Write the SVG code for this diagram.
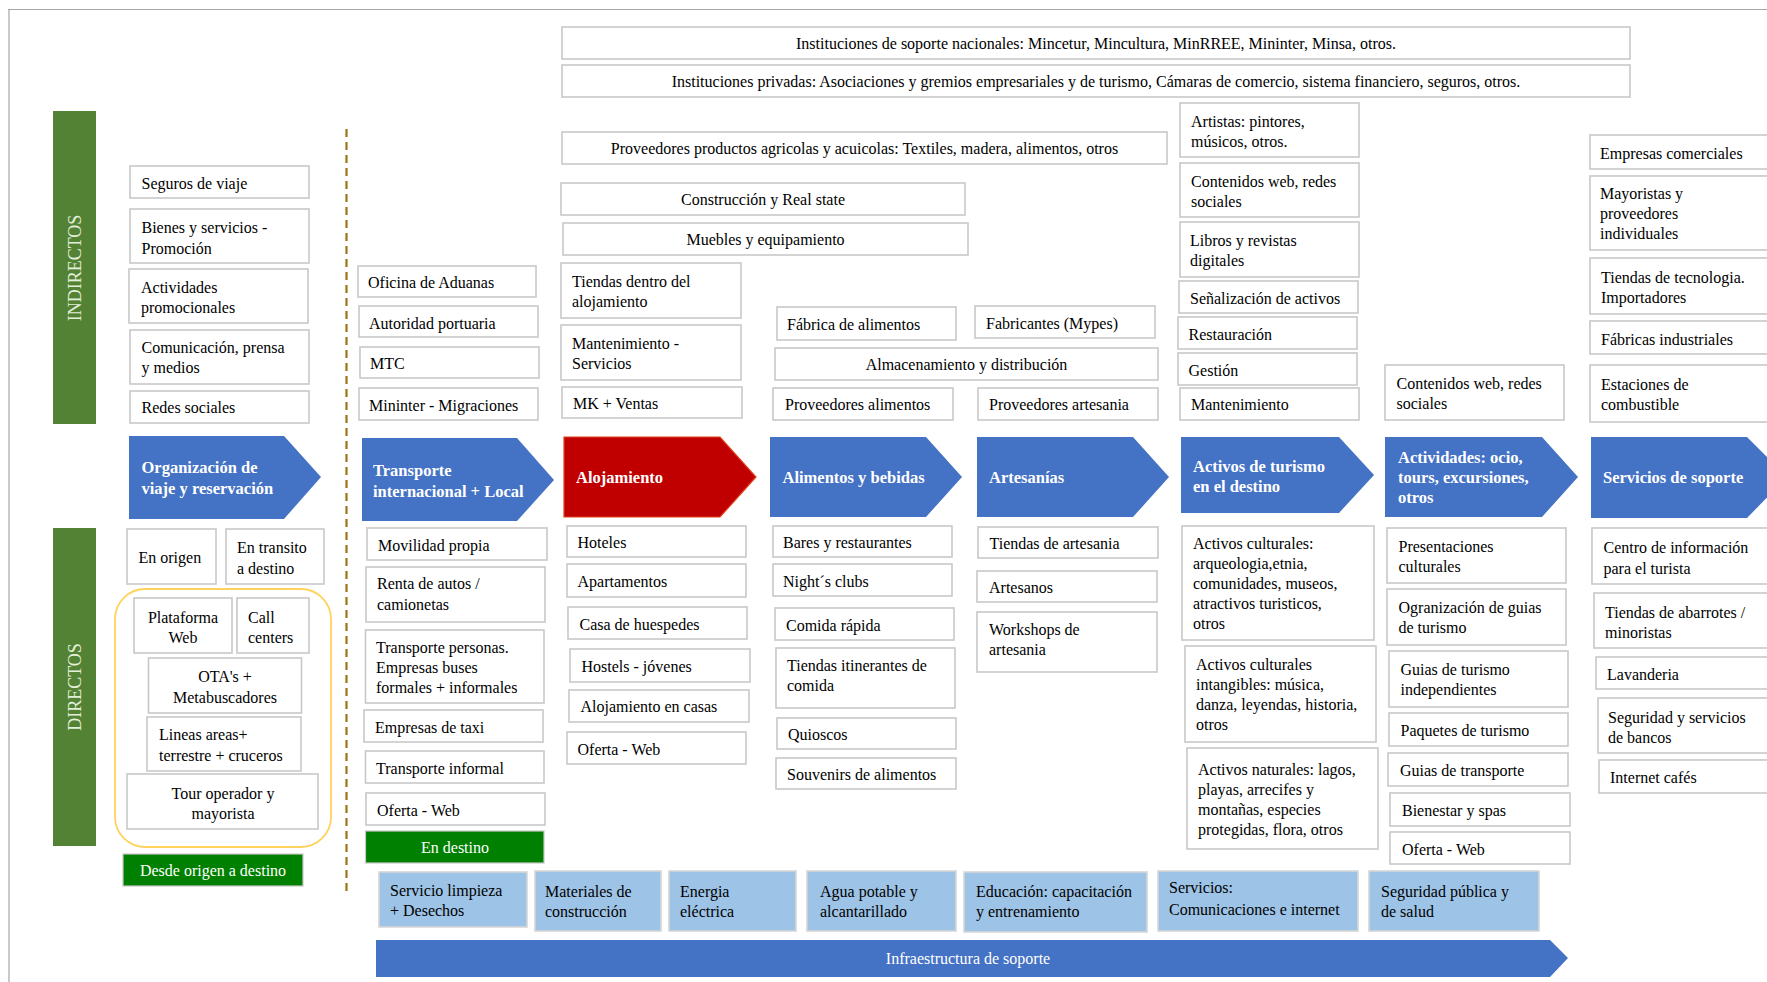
<svg xmlns="http://www.w3.org/2000/svg" width="1767" height="982" viewBox="0 0 1767 982">
<style>
.b{fill:#fff;stroke:#c8c8c8;stroke-width:1.6}
.lb{fill:#9dc3e6;stroke:#d6d6d6;stroke-width:1.6}
.t{font-family:"Liberation Serif","Times New Roman",serif;font-size:16px;fill:#000}
.c{text-anchor:middle}
.h{font-family:"Liberation Serif","Times New Roman",serif;font-size:16.5px;font-weight:bold;fill:#fff}
.w{font-family:"Liberation Serif","Times New Roman",serif;font-size:16px;fill:#fff}
.chev{fill:#4472c4}
.gbar{fill:#548235}
.gbox{fill:#008000;stroke:#c8c8c8;stroke-width:1.2}
.vt{font-family:"Liberation Serif","Times New Roman",serif;font-size:18px;fill:#e2efd9;text-anchor:middle}
</style>
<rect width="1767" height="982" fill="#fff"/>
<g id="frame" stroke="#a6a6a6" stroke-width="1.2" fill="none">
<line x1="8" y1="9.5" x2="1767" y2="9.5"/>
<line x1="9" y1="9.5" x2="9" y2="982"/>
</g>

<g id="connectors">
<line x1="346.5" y1="129" x2="346.5" y2="891" stroke="#9c7418" stroke-width="2.2" stroke-dasharray="8,5"/>
</g>

<!-- side bars -->
<g id="indirectos"><rect class="gbar" x="53" y="111" width="43" height="313"/><text class="vt" transform="translate(81,268) rotate(-90)">INDIRECTOS</text></g>
<g id="directos"><rect class="gbar" x="53" y="528" width="43" height="318"/><text class="vt" transform="translate(81,687) rotate(-90)">DIRECTOS</text></g>

<!-- top wide boxes -->
<g id="inst-nac"><rect class="b" x="562" y="27" width="1068" height="32"/><text class="t c" x="1096" y="49">Instituciones de soporte nacionales: Mincetur, Mincultura, MinRREE, Mininter, Minsa, otros.</text></g>
<g id="inst-priv"><rect class="b" x="562" y="65" width="1068" height="32"/><text class="t c" x="1096" y="87">Instituciones privadas: Asociaciones y gremios empresariales y de turismo, Cámaras de comercio, sistema financiero, seguros, otros.</text></g>
<g id="prov-agri"><rect class="b" x="562" y="132" width="605" height="32"/><text class="t c" x="864.5" y="154">Proveedores productos agricolas y acuicolas: Textiles, madera, alimentos, otros</text></g>
<g id="construccion"><rect class="b" x="561" y="183" width="404" height="32"/><text class="t c" x="763" y="205">Construcción y Real state</text></g>
<g id="muebles"><rect class="b" x="563" y="223" width="405" height="32"/><text class="t c" x="765.5" y="245">Muebles y equipamiento</text></g>
<g id="tiendas-aloj"><rect class="b" x="561" y="263" width="180" height="55"/><text class="t" x="572" y="287">Tiendas dentro del</text><text class="t" x="572" y="307">alojamiento</text></g>
<g id="mant-serv"><rect class="b" x="561" y="325" width="180" height="55"/><text class="t" x="572" y="349">Mantenimiento -</text><text class="t" x="572" y="369">Servicios</text></g>
<g id="mk-ventas"><rect class="b" x="562" y="387" width="180" height="31"/><text class="t" x="573" y="409">MK + Ventas</text></g>
<g id="fabrica-alim"><rect class="b" x="777" y="307" width="179" height="33"/><text class="t" x="787" y="330">Fábrica de alimentos</text></g>
<g id="fabricantes"><rect class="b" x="975" y="306" width="180" height="32"/><text class="t" x="986" y="329">Fabricantes (Mypes)</text></g>
<g id="almacen"><rect class="b" x="775" y="348" width="383" height="32"/><text class="t c" x="966.5" y="370">Almacenamiento y distribución</text></g>
<g id="prov-alim"><rect class="b" x="773" y="388" width="180" height="32"/><text class="t" x="785" y="410">Proveedores alimentos</text></g>
<g id="prov-arte"><rect class="b" x="978" y="388" width="180" height="32"/><text class="t" x="989" y="410">Proveedores artesania</text></g>

<g id="artistas"><rect class="b" x="1180" y="103" width="179" height="54"/><text class="t" x="1191" y="127">Artistas: pintores,</text><text class="t" x="1191" y="147">músicos, otros.</text></g>
<g id="contenidos1"><rect class="b" x="1180" y="163" width="179" height="54"/><text class="t" x="1191" y="187">Contenidos web, redes</text><text class="t" x="1191" y="207">sociales</text></g>
<g id="libros"><rect class="b" x="1180" y="222" width="179" height="55"/><text class="t" x="1190" y="246">Libros y revistas</text><text class="t" x="1190" y="266">digitales</text></g>
<g id="senalizacion"><rect class="b" x="1179" y="281" width="179" height="32"/><text class="t" x="1190" y="304">Señalización de activos</text></g>
<g id="restauracion"><rect class="b" x="1178" y="317" width="179" height="32"/><text class="t" x="1188.5" y="340">Restauración</text></g>
<g id="gestion"><rect class="b" x="1178" y="353" width="179" height="32"/><text class="t" x="1188.5" y="376">Gestión</text></g>
<g id="mantenimiento"><rect class="b" x="1180" y="388" width="179" height="32"/><text class="t" x="1191" y="410">Mantenimiento</text></g>
<g id="contenidos2"><rect class="b" x="1385" y="365" width="179" height="55"/><text class="t" x="1396.5" y="389">Contenidos web, redes</text><text class="t" x="1396.5" y="409">sociales</text></g>

<g id="empresas-com"><rect class="b" x="1590" y="135" width="185" height="34"/><text class="t" x="1600" y="159">Empresas comerciales</text></g>
<g id="mayoristas"><rect class="b" x="1590" y="176" width="185" height="74"/><text class="t" x="1600" y="199">Mayoristas y</text><text class="t" x="1600" y="219">proveedores</text><text class="t" x="1600" y="239">individuales</text></g>
<g id="tiendas-tec"><rect class="b" x="1590" y="258" width="185" height="56"/><text class="t" x="1601" y="283">Tiendas de tecnologia.</text><text class="t" x="1601" y="303">Importadores</text></g>
<g id="fabricas-ind"><rect class="b" x="1590" y="321" width="185" height="33"/><text class="t" x="1601" y="345">Fábricas industriales</text></g>
<g id="estaciones"><rect class="b" x="1590" y="365" width="185" height="57"/><text class="t" x="1601" y="390">Estaciones de</text><text class="t" x="1601" y="410">combustible</text></g>

<!-- left indirect -->
<g id="seguros"><rect class="b" x="130" y="166" width="179" height="32"/><text class="t" x="141.5" y="189">Seguros de viaje</text></g>
<g id="bienes"><rect class="b" x="130" y="209" width="179" height="54"/><text class="t" x="141.5" y="233">Bienes y servicios -</text><text class="t" x="141.5" y="254">Promoción</text></g>
<g id="activ-prom"><rect class="b" x="129" y="269" width="179" height="54"/><text class="t" x="141" y="293">Actividades</text><text class="t" x="141" y="313">promocionales</text></g>
<g id="comunicacion"><rect class="b" x="130" y="330" width="179" height="54"/><text class="t" x="141.5" y="353">Comunicación, prensa</text><text class="t" x="141.5" y="373">y medios</text></g>
<g id="redes"><rect class="b" x="130" y="391" width="179" height="32"/><text class="t" x="141.5" y="413">Redes sociales</text></g>

<g id="aduanas"><rect class="b" x="358" y="266" width="178" height="31"/><text class="t" x="368" y="288">Oficina de Aduanas</text></g>
<g id="portuaria"><rect class="b" x="359" y="306" width="179" height="31"/><text class="t" x="369" y="329">Autoridad portuaria</text></g>
<g id="mtc"><rect class="b" x="360" y="347" width="179" height="31"/><text class="t" x="370" y="369">MTC</text></g>
<g id="mininter"><rect class="b" x="359" y="388" width="179" height="32"/><text class="t" x="369" y="411">Mininter - Migraciones</text></g>

<!-- chevrons -->
<g id="ch-org"><polygon class="chev" points="129,436 284,436 321,477 284,519 129,519"/><text class="h" x="141.5" y="473">Organización de</text><text class="h" x="141.5" y="494">viaje y reservación</text></g>
<g id="ch-transp"><polygon class="chev" points="362,438 517,438 554,480 517,521 362,521"/><text class="h" x="373" y="476">Transporte</text><text class="h" x="373" y="497">internacional + Local</text></g>
<g id="ch-aloj"><polygon points="564,437 720,437 756,477 720,517 564,517" fill="#c00000" stroke="#e0401a" stroke-width="1.2"/><text class="h" x="576" y="483">Alojamiento</text></g>
<g id="ch-alim"><polygon class="chev" points="770,437 926,437 962,477 926,517 770,517"/><text class="h" x="782.5" y="483">Alimentos y bebidas</text></g>
<g id="ch-arte"><polygon class="chev" points="977,437 1133,437 1169,477 1133,517 977,517"/><text class="h" x="989" y="483">Artesanías</text></g>
<g id="ch-activos"><polygon class="chev" points="1181,437 1339,437 1374,475 1339,513 1181,513"/><text class="h" x="1193" y="472">Activos de turismo</text><text class="h" x="1193" y="492">en el destino</text></g>
<g id="ch-activ"><polygon class="chev" points="1385,437 1542,437 1578,477 1542,517 1385,517"/><text class="h" x="1398" y="463">Actividades: ocio,</text><text class="h" x="1398" y="483">tours, excursiones,</text><text class="h" x="1398" y="503">otros</text></g>
<g id="ch-serv"><polygon class="chev" points="1591,437 1747,437 1787,477 1747,518 1591,518"/><text class="h" x="1603" y="483">Servicios de soporte</text></g>

<!-- directos left -->
<g id="en-origen"><rect class="b" x="127" y="529" width="89" height="55"/><text class="t" x="138.5" y="563">En origen</text></g>
<g id="en-transito"><rect class="b" x="226" y="529" width="98" height="55"/><text class="t" x="237" y="553">En transito</text><text class="t" x="237" y="574">a destino</text></g>
<g id="canales"><rect x="115" y="589" width="216" height="258" rx="30" ry="30" fill="none" stroke="#ffd25e" stroke-width="1.8"/></g>
<g id="plataforma"><rect class="b" x="134" y="598" width="98" height="55"/><text class="t c" x="183" y="623">Plataforma</text><text class="t c" x="183" y="643">Web</text></g>
<g id="call"><rect class="b" x="237" y="598" width="72" height="55"/><text class="t" x="248" y="623">Call</text><text class="t" x="248" y="643">centers</text></g>
<g id="ota"><rect class="b" x="148.5" y="658" width="153" height="55"/><text class="t c" x="225" y="682">OTA's +</text><text class="t c" x="225" y="703">Metabuscadores</text></g>
<g id="lineas"><rect class="b" x="147" y="717" width="154" height="54"/><text class="t" x="159" y="740">Lineas areas+</text><text class="t" x="159" y="761">terrestre + cruceros</text></g>
<g id="tour"><rect class="b" x="127" y="774" width="191" height="55"/><text class="t c" x="223" y="799">Tour operador y</text><text class="t c" x="223" y="819">mayorista</text></g>
<g id="desde"><rect class="gbox" x="123" y="854" width="180" height="32"/><text class="w c" x="213" y="876">Desde origen a destino</text></g>

<!-- transporte column -->
<g id="movilidad"><rect class="b" x="367" y="528" width="180" height="32"/><text class="t" x="378" y="551">Movilidad propia</text></g>
<g id="renta"><rect class="b" x="366" y="567" width="179" height="55"/><text class="t" x="377" y="589">Renta de autos /</text><text class="t" x="377" y="610">camionetas</text></g>
<g id="transp-pers"><rect class="b" x="365.5" y="630" width="178.5" height="73"/><text class="t" x="376" y="653">Transporte personas.</text><text class="t" x="376" y="673">Empresas buses</text><text class="t" x="376" y="693">formales + informales</text></g>
<g id="taxi"><rect class="b" x="364" y="710" width="179" height="32"/><text class="t" x="375" y="733">Empresas de taxi</text></g>
<g id="informal"><rect class="b" x="365.5" y="751" width="178.5" height="32"/><text class="t" x="376" y="774">Transporte informal</text></g>
<g id="oferta-t"><rect class="b" x="366" y="793" width="179" height="32"/><text class="t" x="377" y="816">Oferta - Web</text></g>
<g id="en-destino"><rect class="gbox" x="365.5" y="831" width="178.5" height="32"/><text class="w c" x="455" y="853">En destino</text></g>

<!-- alojamiento column -->
<g id="hoteles"><rect class="b" x="567" y="526" width="179" height="31"/><text class="t" x="577.5" y="548">Hoteles</text></g>
<g id="apartamentos"><rect class="b" x="567" y="564" width="179" height="33"/><text class="t" x="577.5" y="587">Apartamentos</text></g>
<g id="casa"><rect class="b" x="568" y="607" width="179" height="32"/><text class="t" x="579.5" y="630">Casa de huespedes</text></g>
<g id="hostels"><rect class="b" x="570" y="649" width="180" height="33"/><text class="t" x="581.5" y="672">Hostels - jóvenes</text></g>
<g id="aloj-casas"><rect class="b" x="569" y="690" width="180" height="32"/><text class="t" x="580.5" y="712">Alojamiento en casas</text></g>
<g id="oferta-a"><rect class="b" x="567" y="732" width="179" height="32"/><text class="t" x="577.5" y="755">Oferta - Web</text></g>

<!-- alimentos column -->
<g id="bares"><rect class="b" x="773" y="526" width="179" height="31"/><text class="t" x="783" y="548">Bares y restaurantes</text></g>
<g id="night"><rect class="b" x="773" y="564" width="179" height="32"/><text class="t" x="783" y="587">Night´s clubs</text></g>
<g id="comida"><rect class="b" x="775" y="608" width="179" height="32"/><text class="t" x="786" y="631">Comida rápida</text></g>
<g id="tiendas-itin"><rect class="b" x="776" y="648" width="179" height="60"/><text class="t" x="787" y="671">Tiendas itinerantes de</text><text class="t" x="787" y="691">comida</text></g>
<g id="quioscos"><rect class="b" x="777" y="718" width="179" height="31"/><text class="t" x="788" y="740">Quioscos</text></g>
<g id="souvenirs"><rect class="b" x="776" y="758" width="180" height="31"/><text class="t" x="787" y="780">Souvenirs de alimentos</text></g>

<!-- artesanias column -->
<g id="tiendas-arte"><rect class="b" x="978" y="527" width="180" height="31"/><text class="t" x="989.5" y="549">Tiendas de artesania</text></g>
<g id="artesanos"><rect class="b" x="977" y="571" width="180" height="31"/><text class="t" x="989" y="593">Artesanos</text></g>
<g id="workshops"><rect class="b" x="977" y="612" width="180" height="60"/><text class="t" x="989" y="635">Workshops de</text><text class="t" x="989" y="655">artesania</text></g>

<!-- activos column -->
<g id="act-cult"><rect class="b" x="1182" y="526" width="192" height="114"/><text class="t" x="1193" y="549">Activos culturales:</text><text class="t" x="1193" y="569">arqueologia,etnia,</text><text class="t" x="1193" y="589">comunidades, museos,</text><text class="t" x="1193" y="609">atractivos turisticos,</text><text class="t" x="1193" y="629">otros</text></g>
<g id="act-intang"><rect class="b" x="1185" y="646" width="191" height="96"/><text class="t" x="1196" y="670">Activos culturales</text><text class="t" x="1196" y="690">intangibles: música,</text><text class="t" x="1196" y="710">danza, leyendas, historia,</text><text class="t" x="1196" y="730">otros</text></g>
<g id="act-nat"><rect class="b" x="1187" y="748" width="191" height="101"/><text class="t" x="1198" y="775">Activos naturales: lagos,</text><text class="t" x="1198" y="795">playas, arrecifes y</text><text class="t" x="1198" y="815">montañas, especies</text><text class="t" x="1198" y="835">protegidas, flora, otros</text></g>

<!-- actividades column -->
<g id="presentaciones"><rect class="b" x="1387" y="528" width="179" height="55"/><text class="t" x="1398.5" y="552">Presentaciones</text><text class="t" x="1398.5" y="572">culturales</text></g>
<g id="ogranizacion"><rect class="b" x="1387" y="589" width="179" height="56"/><text class="t" x="1398.5" y="613">Ogranización de guias</text><text class="t" x="1398.5" y="633">de turismo</text></g>
<g id="guias-ind"><rect class="b" x="1389" y="651" width="179" height="56"/><text class="t" x="1400.5" y="675">Guias de turismo</text><text class="t" x="1400.5" y="695">independientes</text></g>
<g id="paquetes"><rect class="b" x="1389" y="713" width="179" height="33"/><text class="t" x="1400.5" y="736">Paquetes de turismo</text></g>
<g id="guias-transp"><rect class="b" x="1388" y="753" width="180" height="33"/><text class="t" x="1400" y="776">Guias de transporte</text></g>
<g id="bienestar"><rect class="b" x="1390" y="793" width="180" height="33"/><text class="t" x="1402" y="816">Bienestar y spas</text></g>
<g id="oferta-act"><rect class="b" x="1390" y="832" width="180" height="32"/><text class="t" x="1402" y="855">Oferta - Web</text></g>

<!-- servicios de soporte column -->
<g id="centro"><rect class="b" x="1592" y="528" width="185" height="56"/><text class="t" x="1603.5" y="553">Centro de información</text><text class="t" x="1603.5" y="574">para el turista</text></g>
<g id="abarrotes"><rect class="b" x="1594" y="593" width="185" height="55"/><text class="t" x="1605" y="618">Tiendas de abarrotes /</text><text class="t" x="1605" y="638">minoristas</text></g>
<g id="lavanderia"><rect class="b" x="1596" y="657" width="185" height="32"/><text class="t" x="1607" y="680">Lavanderia</text></g>
<g id="seguridad-bancos"><rect class="b" x="1598" y="698" width="185" height="55"/><text class="t" x="1608" y="723">Seguridad y servicios</text><text class="t" x="1608" y="743">de bancos</text></g>
<g id="internet"><rect class="b" x="1599" y="760" width="185" height="33"/><text class="t" x="1610" y="783">Internet cafés</text></g>

<!-- infraestructura -->
<g id="limpieza"><rect class="lb" x="379" y="872" width="148" height="55"/><text class="t" x="390" y="896">Servicio limpieza</text><text class="t" x="390" y="916">+ Desechos</text></g>
<g id="materiales"><rect class="lb" x="535" y="871" width="126" height="60"/><text class="t" x="545" y="897">Materiales de</text><text class="t" x="545" y="917">construcción</text></g>
<g id="energia"><rect class="lb" x="669" y="871" width="127" height="60"/><text class="t" x="680" y="897">Energia</text><text class="t" x="680" y="917">eléctrica</text></g>
<g id="agua"><rect class="lb" x="807" y="871" width="149" height="60"/><text class="t" x="820" y="897">Agua potable y</text><text class="t" x="820" y="917">alcantarillado</text></g>
<g id="educacion"><rect class="lb" x="964" y="872" width="183" height="60"/><text class="t" x="976" y="897">Educación: capacitación</text><text class="t" x="976" y="917">y entrenamiento</text></g>
<g id="servicios-com"><rect class="lb" x="1158" y="871" width="200" height="60"/><text class="t" x="1169" y="893">Servicios:</text><text class="t" x="1169" y="915">Comunicaciones e internet</text></g>
<g id="seguridad-pub"><rect class="lb" x="1369" y="871" width="170" height="60"/><text class="t" x="1381" y="897">Seguridad pública y</text><text class="t" x="1381" y="917">de salud</text></g>
<g id="infraestructura"><polygon class="chev" points="376,940 1550,940 1568,958 1550,977 376,977"/><text class="w c" x="968" y="964">Infraestructura de soporte</text></g>
</svg>
